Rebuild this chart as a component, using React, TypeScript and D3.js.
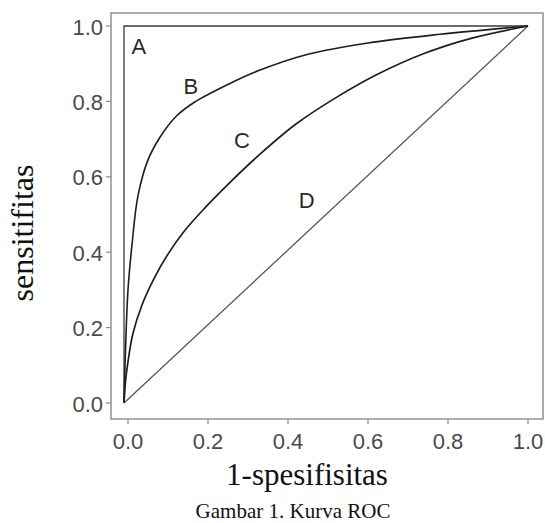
import { useEffect, useRef } from "react";
import * as d3 from "d3";

// values (x = 1-spesifisitas, y = sensitifitas)
const curveA = [
  [-0.01, 0], [-0.01, 1], [1, 1],
];
const curveB = [
  [-0.01, 0], [-0.006, 0.15], [0, 0.3], [0.01, 0.42], [0.025, 0.55],
  [0.05, 0.645], [0.08, 0.705], [0.12, 0.76], [0.165, 0.797], [0.25, 0.845],
  [0.33, 0.883], [0.45, 0.925], [0.6, 0.955], [0.78, 0.978], [1, 1],
];
const curveC = [
  [-0.01, 0], [-0.006, 0.06], [0, 0.11], [0.0125, 0.185], [0.035, 0.26],
  [0.065, 0.33], [0.1, 0.395], [0.14, 0.455], [0.19, 0.515], [0.25, 0.58],
  [0.33, 0.66], [0.42, 0.74], [0.52, 0.81], [0.62, 0.87], [0.74, 0.927],
  [0.86, 0.968], [1, 1],
];
const curveD = [
  [-0.01, 0], [1, 1],
];
const curveLabels = ["A", "B", "C", "D"];
const labelPos = [
  [0.027, 0.945], [0.157, 0.84], [0.285, 0.697], [0.447, 0.537],
];
const ticks = [0, 0.2, 0.4, 0.6, 0.8, 1.0];
const xTitle = "1-spesifisitas";
const yTitle = "sensitifitas";
const caption = "Gambar 1. Kurva ROC";

export default function App() {
  const ref = useRef<SVGSVGElement>(null);

  useEffect(() => {
    const svg = d3.select(ref.current);
    svg.selectAll("*").remove();

    const x = d3.scaleLinear().domain([0, 1]).range([128, 528]);
    const y = d3.scaleLinear().domain([0, 1]).range([403, 26]);

    // panel border
    svg.append("rect")
      .attr("x", 111).attr("y", 13)
      .attr("width", 432).attr("height", 406)
      .attr("fill", "none")
      .attr("stroke", "#8a8a8a")
      .attr("stroke-width", 1.4);

    const line = d3.line<number[]>()
      .x((d) => x(d[0]))
      .y((d) => y(d[1]));
    const smooth = d3.line<number[]>()
      .x((d) => x(d[0]))
      .y((d) => y(d[1]))
      .curve(d3.curveCatmullRom.alpha(0.5));

    svg.append("path").datum(curveA)
      .attr("d", line).attr("fill", "none")
      .attr("stroke", "#3a3a3a").attr("stroke-width", 1.3);
    svg.append("path").datum(curveD)
      .attr("d", line).attr("fill", "none")
      .attr("stroke", "#555").attr("stroke-width", 1.3);
    svg.append("path").datum(curveB)
      .attr("d", smooth).attr("fill", "none")
      .attr("stroke", "#1e1e1e").attr("stroke-width", 1.6);
    svg.append("path").datum(curveC)
      .attr("d", smooth).attr("fill", "none")
      .attr("stroke", "#1e1e1e").attr("stroke-width", 1.7);

    // letters on the curves
    svg.selectAll("text.lbl").data(curveLabels).enter().append("text")
      .attr("class", "lbl")
      .attr("x", (d, i) => x(labelPos[i][0]))
      .attr("y", (d, i) => y(labelPos[i][1]))
      .attr("text-anchor", "middle")
      .attr("dominant-baseline", "central")
      .attr("font-family", "Liberation Sans, Arial, sans-serif")
      .attr("font-size", 22)
      .attr("fill", "#2a2a2a")
      .text((d) => d);

    // y axis
    const yAxis = svg.append("g");
    yAxis.selectAll("line").data(ticks).enter().append("line")
      .attr("x1", 106).attr("x2", 111)
      .attr("y1", (d) => y(d)).attr("y2", (d) => y(d))
      .attr("stroke", "#8a8a8a").attr("stroke-width", 1.2);
    yAxis.selectAll("text").data(ticks).enter().append("text")
      .attr("x", 103)
      .attr("y", (d) => y(d) + 1)
      .attr("text-anchor", "end")
      .attr("dominant-baseline", "central")
      .attr("font-family", "Liberation Sans, Arial, sans-serif")
      .attr("font-size", 22)
      .attr("fill", "#4a4a4a")
      .text((d) => d3.format(".1f")(d));

    // x axis
    const xAxis = svg.append("g");
    xAxis.selectAll("line").data(ticks).enter().append("line")
      .attr("y1", 419).attr("y2", 424)
      .attr("x1", (d) => x(d)).attr("x2", (d) => x(d))
      .attr("stroke", "#8a8a8a").attr("stroke-width", 1.2);
    xAxis.selectAll("text").data(ticks).enter().append("text")
      .attr("x", (d) => x(d))
      .attr("y", 449)
      .attr("text-anchor", "middle")
      .attr("font-family", "Liberation Sans, Arial, sans-serif")
      .attr("font-size", 22)
      .attr("fill", "#4a4a4a")
      .text((d) => d3.format(".1f")(d));

    // titles
    svg.append("text")
      .attr("x", 307).attr("y", 485)
      .attr("text-anchor", "middle")
      .attr("font-family", "Liberation Serif, Times New Roman, serif")
      .attr("font-size", 31)
      .attr("fill", "#111")
      .text(xTitle);
    svg.append("text")
      .attr("transform", "translate(33,233) rotate(-90)")
      .attr("text-anchor", "middle")
      .attr("font-family", "Liberation Serif, Times New Roman, serif")
      .attr("font-size", 32)
      .attr("fill", "#111")
      .text(yTitle);
    svg.append("text")
      .attr("x", 293).attr("y", 518)
      .attr("text-anchor", "middle")
      .attr("font-family", "Liberation Serif, Times New Roman, serif")
      .attr("font-size", 21)
      .attr("fill", "#111")
      .text(caption);
  }, []);

  return (
    <svg ref={ref} width={545} height={523}
      style={{ position: "absolute", left: 0, top: 0, background: "#fff" }} />
  );
}
